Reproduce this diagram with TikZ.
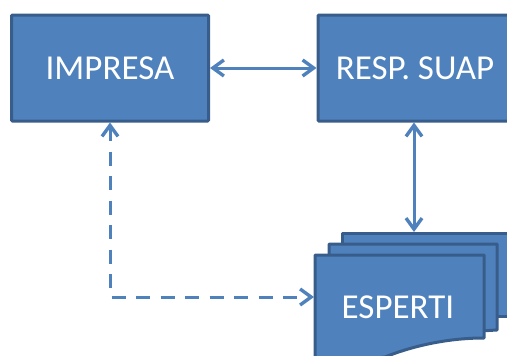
\documentclass[tikz,border=0pt]{standalone}
\usepackage{fontspec}
\setmainfont{Carlito}
\usetikzlibrary{arrows.meta}
\definecolor{boxfill}{HTML}{4F81BD}
\definecolor{boxline}{HTML}{385D8A}
\tikzset{
  x=1pt,y=-1pt,
  boxtext/.style={text=white,font=\fontsize{35}{40}\selectfont,inner sep=0pt},
  procbox/.style={draw=boxline,fill=boxfill,line width=3pt,outer sep=1.5pt,rounded corners=1pt,boxtext,anchor=north west},
  docshape/.style={draw=boxline,fill=boxfill,line width=3pt,line join=round},
  link/.style={draw=boxfill,line width=3pt,{Straight Barb[length=11pt,width=16pt,line width=3.4pt]}-{Straight Barb[length=11pt,width=16pt,line width=3.4pt]}},
  dashlink/.style={link,dash pattern=on 14pt off 10.5pt},
}
\begin{document}
\begin{tikzpicture}
\useasboundingbox (0,0) rectangle (507,356);
\node[procbox,minimum width=197pt,minimum height=106pt] (imp) at (10,13.5) {IMPRESA};
\node[procbox,minimum width=194pt,minimum height=106pt] (resp) at (316.5,13.5) {RESP. SUAP};
\path[docshape] (342,233) -- (525,233) -- (525,316) -- (342,316) -- cycle;
\path[docshape] (329,244) -- (497,244) -- (497,330) -- (329,340) -- cycle;
\path[docshape] (315,255) -- (484,255) -- (484,338) .. controls (445,338) and (410,347) .. (385,357) -- (315,366) -- cycle;
\node[boxtext] (esp) at (398,307) {ESPERTI};
\coordinate (espTop) at (414,232);
\coordinate (espLeft) at (314,297);
\coordinate (corner) at (110,297);
\draw[link] (imp.east) -- (resp.west);
\draw[link] (resp.south -| espTop) -- (espTop);
\draw[dashlink] (imp.south -| corner) -- (corner) -- (espLeft);
\end{tikzpicture}
\end{document}
